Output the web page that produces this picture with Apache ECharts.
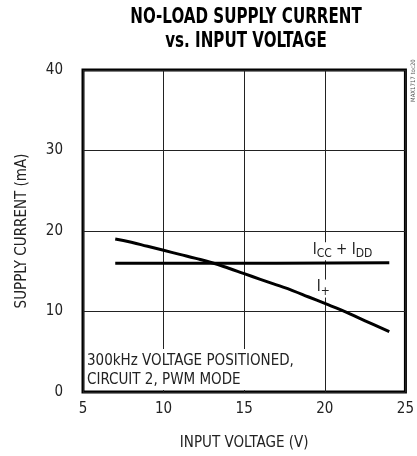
<!DOCTYPE html>
<html><head><meta charset="utf-8">
<script src="https://cdn.jsdelivr.net/npm/echarts@6/dist/echarts.min.js"></script>
<style>html,body{margin:0;padding:0;background:#fff}#c{width:417px;height:456px}</style>
</head><body><div id="c"></div>
<script>
const FONT = '"Liberation Sans Narrow","DejaVu Sans Condensed","Liberation Sans",sans-serif';
const titleLines = ['NO-LOAD SUPPLY CURRENT', 'vs. INPUT VOLTAGE'];
const xTicks = [5, 10, 15, 20, 25];
const yTicks = [0, 10, 20, 30, 40];
const iPlusV = [7, 8, 9, 10, 11, 12, 13, 14, 15, 16, 17, 18, 19, 20, 21, 22, 23, 24];
const iPlusmA = [19.0, 18.6, 18.1, 17.6, 17.1, 16.6, 16.05, 15.4, 14.7, 14.0, 13.3, 12.6, 11.8, 11.0, 10.2, 9.3, 8.4, 7.5];
const iccV = [7, 12, 17, 24];
const iccmA = [16.0, 16.0, 16.0, 16.05];
const noteLines = ['300kHz VOLTAGE POSITIONED,', 'CIRCUIT 2, PWM MODE'];

const chart = echarts.init(document.getElementById('c'), null, {renderer: 'canvas'});
const grid = {left: 83, top: 70, right: 8, bottom: 64};
const richSub = {
  m: {fontFamily: FONT, fontSize: 15, color: '#222', verticalAlign: 'top', lineHeight: 18},
  s: {fontFamily: FONT, fontSize: 12, color: '#222', verticalAlign: 'bottom', lineHeight: 11}
};
chart.setOption({
  animation: false,
  backgroundColor: '#fff',
  grid: Object.assign({show: true, borderColor: '#000', borderWidth: 3, backgroundColor: 'transparent'}, grid),
  xAxis: {
    type: 'value', min: 5, max: 25, interval: 5,
    name: 'INPUT VOLTAGE (V)', nameLocation: 'middle', nameGap: 44,
    nameTextStyle: {fontFamily: FONT, fontSize: 15, color: '#222'},
    axisLine: {show: false}, axisTick: {show: false},
    axisLabel: {fontFamily: FONT, fontSize: 15, color: '#222', margin: 10,
      formatter: v => xTicks.includes(v) ? String(v) : ''},
    splitLine: {show: true, lineStyle: {color: '#222', width: 1}}
  },
  yAxis: {
    type: 'value', min: 0, max: 40, interval: 10,
    name: 'SUPPLY CURRENT (mA)', nameLocation: 'middle', nameGap: 53, nameRotate: 90,
    nameTextStyle: {fontFamily: FONT, fontSize: 15, color: '#222'},
    axisLine: {show: false}, axisTick: {show: false},
    axisLabel: {fontFamily: FONT, fontSize: 15, color: '#222', margin: 20,
      formatter: v => yTicks.includes(v) ? String(v) : ''},
    splitLine: {show: true, lineStyle: {color: '#222', width: 1}}
  },
  series: [
    {
      type: 'line', data: iPlusV.map((v, i) => [v, iPlusmA[i]]), smooth: true,
      symbol: 'none', lineStyle: {color: '#000', width: 3}, z: 3,
      markPoint: {
        symbol: 'rect', symbolSize: 0, silent: true,
        data: [{coord: [19.9, 12.85]}],
        label: {show: true, position: 'inside', formatter: '{m|I}{s|+}',
          backgroundColor: '#fff', padding: [0, 1, 0, 1], rich: richSub}
      }
    },
    {
      type: 'line', data: iccV.map((v, i) => [v, iccmA[i]]),
      symbol: 'none', lineStyle: {color: '#000', width: 3}, z: 3,
      markPoint: {
        symbol: 'rect', symbolSize: 0, silent: true,
        data: [{coord: [21.1, 17.5]}],
        label: {show: true, position: 'inside', formatter: '{m|I}{s|CC}{m| + I}{s|DD}',
          backgroundColor: '#fff', padding: [0, 1, 0, 1], rich: richSub}
      }
    }
  ],
  graphic: [
    {type: 'text', x: 246, y: 6, scaleX: 0.8, z: 11,
     style: {text: titleLines.join('\n'), fontFamily: FONT, fontWeight: 'bold', fontSize: 21, lineHeight: 24,
             textAlign: 'center', fill: '#000'}},
    {type: 'rect', left: 85, top: 349, shape: {width: 220, height: 41}, style: {fill: '#fff'}, z: 10},
    {type: 'text', left: 87, top: 352, z: 11,
     style: {text: noteLines.join('\n'), fontFamily: FONT, fontSize: 15, lineHeight: 19, fill: '#222'}},
    {type: 'text', x: 413, y: 102, rotation: Math.PI / 2, z: 11,
     style: {text: 'MAX1717 toc20', fontFamily: FONT, fontSize: 6, fill: '#555', textVerticalAlign: 'middle'}}
  ]
});
</script></body></html>
